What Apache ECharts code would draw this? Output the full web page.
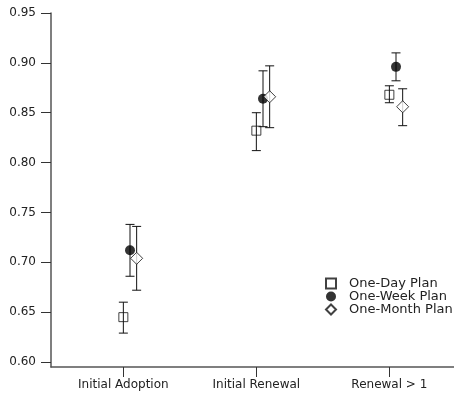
<!DOCTYPE html>
<html>
<head>
<meta charset="utf-8">
<script src="https://cdn.jsdelivr.net/npm/echarts@6/dist/echarts.min.js"></script>
<style>
    html, body { margin: 0; padding: 0; background: #fff; }
    #container { width: 454px; height: 394px; }
</style>
</head>
<body>
<div id="container"></div>
<script>
var categories = ['Initial Adoption', 'Initial Renewal', 'Renewal > 1'];
var yTicks = [0.60, 0.65, 0.70, 0.75, 0.80, 0.85, 0.90, 0.95];

var oneDay = [0.645, 0.832, 0.868];
var oneDayLow = [0.629, 0.812, 0.860];
var oneDayHigh = [0.660, 0.850, 0.877];

var oneWeek = [0.712, 0.864, 0.896];
var oneWeekLow = [0.686, 0.836, 0.882];
var oneWeekHigh = [0.738, 0.892, 0.910];

var oneMonth = [0.704, 0.866, 0.856];
var oneMonthLow = [0.672, 0.835, 0.837];
var oneMonthHigh = [0.736, 0.897, 0.874];

// horizontal shift of each plan inside a category
var shift = [0, 0.05, 0.1];

function points(vals, k) {
    return vals.map(function (v, i) { return [i + 1 + shift[k], v]; });
}
function bars(low, high, k) {
    return low.map(function (v, i) { return [i + 1 + shift[k], v, high[i]]; });
}

var errData = bars(oneDayLow, oneDayHigh, 0)
    .concat(bars(oneWeekLow, oneWeekHigh, 1))
    .concat(bars(oneMonthLow, oneMonthHigh, 2));

var myChart = echarts.init(document.getElementById('container'));
var font = 'DejaVu Sans';
var option = {
    animation: false,
    grid: { left: 51, right: 0, top: 13, bottom: 27 },
    legend: {
        orient: 'vertical',
        left: 320,
        top: 272,
        itemWidth: 10,
        itemHeight: 10,
        itemGap: 0,
        textStyle: { fontFamily: font, fontSize: 13, color: '#222', padding: [0, 0, 0, 8] },
        data: [
            { name: 'One-Day Plan', icon: 'rect' },
            { name: 'One-Week Plan', icon: 'circle' },
            { name: 'One-Month Plan', icon: 'diamond' }
        ]
    },
    xAxis: {
        type: 'value',
        min: 0.456,
        max: 3.486,
        splitLine: { show: false },
        axisLine: { lineStyle: { color: '#555', width: 1.5 } },
        axisTick: { length: 10, customValues: [1, 2, 3], lineStyle: { color: '#333' } },
        axisLabel: {
            customValues: [1, 2, 3],
            margin: 12,
            fontFamily: font,
            fontSize: 12,
            color: '#222',
            formatter: function (v) { return categories[Math.round(v) - 1]; }
        }
    },
    yAxis: {
        type: 'value',
        min: 0.595,
        max: 0.95,
        splitLine: { show: false },
        axisLine: { show: true, lineStyle: { color: '#555', width: 1.5 } },
        axisTick: { show: true, length: 10, customValues: yTicks, lineStyle: { color: '#333' } },
        axisLabel: {
            customValues: yTicks,
            margin: 15,
            fontFamily: font,
            fontSize: 12,
            color: '#222',
            formatter: function (v) { return v.toFixed(2); }
        }
    },
    series: [
        {
            name: 'err',
            type: 'custom',
            z: 1,
            data: errData,
            renderItem: function (params, api) {
                var top = api.coord([api.value(0), api.value(2)]);
                var bot = api.coord([api.value(0), api.value(1)]);
                var w = 4.5;
                var st = { stroke: '#111', lineWidth: 1 };
                return {
                    type: 'group',
                    children: [
                        { type: 'line', shape: { x1: top[0], y1: top[1], x2: bot[0], y2: bot[1] }, style: st },
                        { type: 'line', shape: { x1: top[0] - w, y1: top[1], x2: top[0] + w, y2: top[1] }, style: st },
                        { type: 'line', shape: { x1: bot[0] - w, y1: bot[1], x2: bot[0] + w, y2: bot[1] }, style: st }
                    ]
                };
            }
        },
        {
            name: 'One-Day Plan',
            type: 'scatter',
            z: 3,
            symbol: 'rect',
            symbolSize: 9,
            itemStyle: { color: 'rgba(255,255,255,0)', borderColor: '#111', borderWidth: 1 },
            data: points(oneDay, 0)
        },
        {
            name: 'One-Week Plan',
            type: 'scatter',
            z: 3,
            symbol: 'circle',
            symbolSize: 10,
            itemStyle: { color: '#000', borderColor: '#000', borderWidth: 0 },
            data: points(oneWeek, 1)
        },
        {
            name: 'One-Month Plan',
            type: 'scatter',
            z: 3,
            symbol: 'diamond',
            symbolSize: 12,
            itemStyle: { color: '#fff', borderColor: '#111', borderWidth: 1 },
            data: points(oneMonth, 2)
        }
    ]
};
myChart.setOption(option);
</script>
</body>
</html>
